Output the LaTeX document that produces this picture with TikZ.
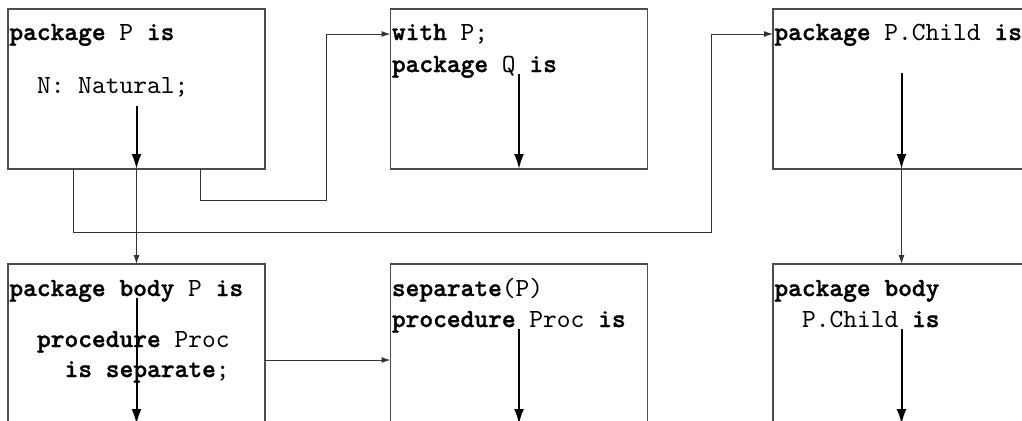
\documentclass[tikz,border=0pt]{standalone}
\usepackage{fontspec}
\usepackage{tikz}
\usetikzlibrary{positioning,calc,arrows.meta}

\newfontfamily\adafont[Extension=.otf, UprightFont=lmmono10-regular,
    BoldFont=lmmonolt10-bold, BoldFeatures={FakeBold=1.2}]{lmmono10-regular}

\tikzset{
    box/.style={draw=black!70, line width=0.6pt, minimum width=128.5pt, minimum height=80pt, inner sep=0pt, outer sep=0pt},
    code/.style={anchor=base west, inner sep=0pt, font=\adafont\fontsize{13.1}{15.5}\selectfont},
    flow/.style={line width=1pt, -{Latex[length=7.5pt,width=5pt]}},
    conn/.style={draw=black!80, line width=0.5pt, -{Latex[length=4.5pt,width=3pt]}}
}

\begin{document}
\begin{tikzpicture}[x=0.5pt,y=-0.5pt]
    \clip (0,0) rectangle (1022,420);
    % units in picture pixels
    \foreach \name/\x/\y in {specP/136.5/89, withQ/519/89, specChild/901.5/89,
                             bodyP/136.5/344, sepProc/519/344, bodyChild/901.5/344}
        \node [box] (\name) at (\x,\y) {};

    % top row
    \node [code] (pkgP)   at ($(specP.north west)+(1,31)$)       {\textbf{package} P \textbf{is}};
    \node [code] (natN)   at ($(specP.north west)+(28.6,84)$)    {N: Natural;};
    \node [code] (withP)  at ($(withQ.north west)+(1,31)$)       {\textbf{with} P;};
    \node [code] (pkgQ)   at ($(withQ.north west)+(1,63)$)       {\textbf{package} Q \textbf{is}};
    \node [code] (pkgCh)  at ($(specChild.north west)+(1,31)$)   {\textbf{package} P.Child \textbf{is}};

    % bottom row
    \node [code] (bdyP)   at ($(bodyP.north west)+(1,32)$)       {\textbf{package body} P \textbf{is}};
    \node [code] (procP)  at ($(bodyP.north west)+(28.6,83)$)    {\textbf{procedure} Proc};
    \node [code] (isSep)  at ($(bodyP.north west)+(56.2,113)$)   {\textbf{is separate};};
    \node [code] (sepP)   at ($(sepProc.north west)+(1,32)$)     {\textbf{separate}(P)};
    \node [code] (procIs) at ($(sepProc.north west)+(1,63)$)     {\textbf{procedure} Proc \textbf{is}};
    \node [code] (bdyCh)  at ($(bodyChild.north west)+(1,32)$)   {\textbf{package body}};
    \node [code] (chIs)   at ($(bodyChild.north west)+(28.6,63)$) {P.Child \textbf{is}};

    % elaboration inside each unit
    \draw [flow] ($(specP.south)+(0,-63)$) -- (specP.south);
    \draw [flow] ($(withQ.south)+(0,-95)$) -- (withQ.south);
    \draw [flow] ($(specChild.south)+(0,-96)$) -- (specChild.south);
    \draw [flow] ($(bodyP.north)+(0,34)$) -- (bodyP.south);
    \draw [flow] ($(sepProc.north)+(0,65)$) -- (sepProc.south);
    \draw [flow] ($(bodyChild.north)+(0,65)$) -- (bodyChild.south);

    % dependencies
    \coordinate (withIn)  at ($(withQ.north west)+(0,25)$);
    \coordinate (childIn) at ($(specChild.north west)+(0,25)$);
    \draw [conn] (specP.south) -- (bodyP.north);
    \draw [conn] (specChild.south) -- (bodyChild.north);
    \draw [conn] ($(specP.south)+(64,0)$) -- ++(0,31) -| ($(withIn)+(-64,0)$) -- (withIn);
    \draw [conn] ($(specP.south)+(-63,0)$) -- ++(0,63) -| ($(childIn)+(-62,0)$) -- (childIn);
    \draw [conn] ($(bodyP.north east)+(0,96)$) -- ($(sepProc.north west)+(0,96)$);
\end{tikzpicture}
\end{document}
